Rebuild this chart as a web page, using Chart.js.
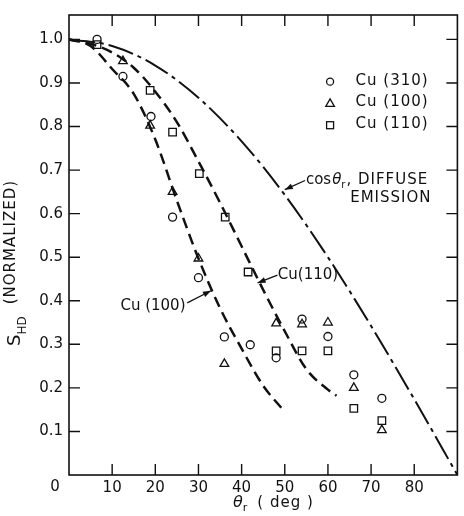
<!DOCTYPE html>
<html><head><meta charset="utf-8">
<script src="https://cdn.jsdelivr.net/npm/chart.js@4.4.0/dist/chart.umd.min.js"></script>
<style>html,body{margin:0;padding:0;background:#fff}#wrap{width:464px;height:516px;position:relative}</style>
</head><body><div id="wrap"><canvas id="c" width="464" height="516"></canvas></div>
<script>
// ---- data ----
const angles310 = [6.5, 12.5, 19, 24, 30, 36, 42, 48, 54, 60, 66, 72.5];
const cu310     = [1.0, 0.915, 0.823, 0.592, 0.453, 0.317, 0.299, 0.269, 0.358, 0.318, 0.230, 0.176];
const angles100 = [12.5, 18.8, 24, 30, 36, 48, 54, 60, 66, 72.5];
const cu100     = [0.95, 0.802, 0.65, 0.497, 0.255, 0.348, 0.346, 0.35, 0.20, 0.103];
const angles110 = [6.5, 18.8, 24, 30.2, 36.2, 41.5, 48, 54, 60, 66, 72.5];
const cu110     = [0.988, 0.883, 0.787, 0.692, 0.592, 0.466, 0.285, 0.285, 0.285, 0.153, 0.125];
const fitAngles100 = [0, 5, 10, 15, 20, 25, 30, 35, 40, 45, 50];
const fit100       = [1.0, 0.985, 0.932, 0.875, 0.77, 0.63, 0.497, 0.383, 0.29, 0.205, 0.145];
const fitAngles110 = [0, 5, 10, 15, 20, 25, 30, 35, 40, 45, 50, 55, 60, 62];
const fit110       = [1.0, 0.99, 0.97, 0.935, 0.88, 0.81, 0.72, 0.625, 0.525, 0.425, 0.33, 0.243, 0.196, 0.182];
const cosAngles = [0, 10, 20, 30, 40, 50, 60, 70, 80, 90];
const cosVals   = [1.0, 0.985, 0.94, 0.866, 0.766, 0.643, 0.5, 0.342, 0.174, 0.0];
const xTicks = [10, 20, 30, 40, 50, 60, 70, 80];
const yTicks = [0.1, 0.2, 0.3, 0.4, 0.5, 0.6, 0.7, 0.8, 0.9, 1.0];
const legendLabels = ['Cu (310)', 'Cu (100)', 'Cu (110)'];

const pts = (xs, ys) => xs.map((v, i) => ({x: v, y: ys[i]}));
const INK = '#111';
const FONT = '"DejaVu Sans", sans-serif';

function arrow(ctx, x1, y1, x2, y2) {
  ctx.beginPath(); ctx.moveTo(x1, y1); ctx.lineTo(x2, y2); ctx.stroke();
  const ang = Math.atan2(y2 - y1, x2 - x1), L = 8, W = 3;
  ctx.beginPath();
  ctx.moveTo(x2, y2);
  ctx.lineTo(x2 - L * Math.cos(ang) + W * Math.sin(ang), y2 - L * Math.sin(ang) - W * Math.cos(ang));
  ctx.lineTo(x2 - L * Math.cos(ang) - W * Math.sin(ang), y2 - L * Math.sin(ang) + W * Math.cos(ang));
  ctx.closePath(); ctx.fill();
}

const decor = {
  id: 'decor',
  afterDraw(chart) {
    const {ctx, chartArea: a, scales: {x, y}} = chart;
    const X = v => x.getPixelForValue(v), Y = v => y.getPixelForValue(v);
    ctx.save();
    ctx.strokeStyle = INK; ctx.fillStyle = INK;
    ctx.lineWidth = 1.6;
    ctx.strokeRect(a.left, a.top, a.right - a.left, a.bottom - a.top);
    ctx.lineWidth = 1.4;
    ctx.beginPath();
    for (const v of xTicks) { const p = X(v); ctx.moveTo(p, a.bottom); ctx.lineTo(p, a.bottom - 11); ctx.moveTo(p, a.top); ctx.lineTo(p, a.top + 11); }
    for (const v of yTicks) { const p = Y(v); ctx.moveTo(a.left, p); ctx.lineTo(a.left + 11, p); ctx.moveTo(a.right, p); ctx.lineTo(a.right - 11, p); }
    ctx.stroke();

    // origin label
    ctx.font = '15px ' + FONT; ctx.textAlign = 'center'; ctx.textBaseline = 'middle';
    ctx.fillText('0', a.left - 14, a.bottom + 12);

    // legend
    const lx = X(60.5), tx = X(66.4);
    const ly = [Y(0.903), Y(0.853), Y(0.803)];
    ctx.lineWidth = 1.3;
    ctx.beginPath(); ctx.arc(lx, ly[0], 3.5, 0, Math.PI * 2); ctx.stroke();
    ctx.beginPath(); ctx.moveTo(lx, ly[1] - 4.5); ctx.lineTo(lx + 4.3, ly[1] + 3); ctx.lineTo(lx - 4.3, ly[1] + 3); ctx.closePath(); ctx.stroke();
    ctx.strokeRect(lx - 3.5, ly[2] - 3.5, 7, 7);
    ctx.font = '15px ' + FONT; ctx.textAlign = 'left';
    ctx.letterSpacing = '1px';
    legendLabels.forEach((t, i) => ctx.fillText(t, tx, ly[i] - 1));
    ctx.letterSpacing = '0px';

    // curve annotations
    ctx.lineWidth = 1.3;
    ctx.font = '15px ' + FONT;
    ctx.textAlign = 'right';
    ctx.fillText('Cu (100)', X(27.0), Y(0.388));
    arrow(ctx, X(27.4), Y(0.395), X(32.9), Y(0.423));
    ctx.textAlign = 'left';
    ctx.fillText('Cu(110)', X(48.4), Y(0.458));
    arrow(ctx, X(48.3), Y(0.459), X(43.7), Y(0.441));

    // cos label
    let cx = X(54.9); const cy = Y(0.676);
    ctx.textAlign = 'left';
    ctx.fillText('cos', cx, cy); cx += ctx.measureText('cos').width + 1;
    ctx.font = 'italic 15px ' + FONT;
    ctx.fillText('θ', cx, cy); cx += ctx.measureText('θ').width;
    ctx.font = '10px ' + FONT;
    ctx.fillText('r', cx, cy + 5); cx += ctx.measureText('r').width + 1;
    ctx.font = '15px ' + FONT;
    ctx.letterSpacing = '1px';
    ctx.fillText(', DIFFUSE', cx, cy);
    ctx.textAlign = 'right';
    ctx.fillText('EMISSION', X(84.0), Y(0.635));
    ctx.letterSpacing = '0px';
    arrow(ctx, X(54.7), Y(0.676), X(50.0), Y(0.655));

    // x title
    ctx.textAlign = 'left'; ctx.textBaseline = 'middle';
    let xx = 233; const xy = 503;
    ctx.font = 'italic 16px ' + FONT;
    ctx.fillText('θ', xx, xy); xx += ctx.measureText('θ').width;
    ctx.font = '11px ' + FONT;
    ctx.fillText('r', xx, xy + 5); xx += ctx.measureText('r').width + 10;
    ctx.font = '15px ' + FONT;
    ctx.letterSpacing = '1px';
    ctx.fillText('( deg )', xx, xy);
    ctx.letterSpacing = '0px';

    // y title (rotated)
    ctx.save();
    ctx.translate(15, 0); ctx.rotate(-Math.PI / 2);
    let ty = -346;
    ctx.font = '18px ' + FONT;
    ctx.fillText('S', ty, 0); ty += ctx.measureText('S').width;
    ctx.font = '12px ' + FONT;
    ctx.fillText('HD', ty, 8); ty += ctx.measureText('HD').width + 12;
    ctx.font = '15px ' + FONT;
    ctx.letterSpacing = '1px';
    ctx.fillText('(NORMALIZED)', ty, -4);
    ctx.restore();
    ctx.restore();
  }
};

const lineDs = (data, dash, w) => ({
  type: 'line', data, borderColor: INK, borderWidth: w, borderDash: dash,
  pointRadius: 0, fill: false, cubicInterpolationMode: 'monotone', showLine: true
});
const markDs = (data, style, r) => ({
  type: 'scatter', data, pointStyle: style, pointRadius: r, borderColor: INK,
  backgroundColor: 'rgba(0,0,0,0)', pointBorderWidth: 1.3, showLine: false
});

new Chart(document.getElementById('c'), {
  type: 'scatter',
  data: {
    datasets: [
      lineDs(pts(cosAngles, cosVals), [26, 5, 4, 5], 2),
      lineDs(pts(fitAngles100, fit100), [11, 6], 2.5),
      lineDs(pts(fitAngles110, fit110), [11, 6], 2.5),
      markDs(pts(angles310, cu310), 'circle', 4),
      markDs(pts(angles100, cu100), 'triangle', 5),
      markDs(pts(angles110, cu110), 'rect', 5.3)
    ]
  },
  options: {
    responsive: false, animation: false, devicePixelRatio: 1,
    layout: {padding: {top: 13, right: 1, left: 0, bottom: 0}},
    plugins: {legend: {display: false}, tooltip: {enabled: false}},
    scales: {
      x: {
        type: 'linear', min: 0, max: 90,
        grid: {display: false, drawTicks: false}, border: {display: false},
        afterBuildTicks: s => { s.ticks = xTicks.map(v => ({value: v})); },
        afterFit: s => { s.height = 41; },
        ticks: {color: INK, font: {family: FONT, size: 15}, padding: 4, maxRotation: 0, callback: v => String(v)}
      },
      y: {
        type: 'linear', min: 0, max: 1.056,
        grid: {display: false, drawTicks: false}, border: {display: false},
        afterBuildTicks: s => { s.ticks = yTicks.map(v => ({value: v})); },
        afterFit: s => { s.width = 69; },
        ticks: {color: INK, font: {family: FONT, size: 15}, padding: 6, callback: v => Number(v).toFixed(1)}
      }
    }
  },
  plugins: [decor]
});
</script>
</body></html>
